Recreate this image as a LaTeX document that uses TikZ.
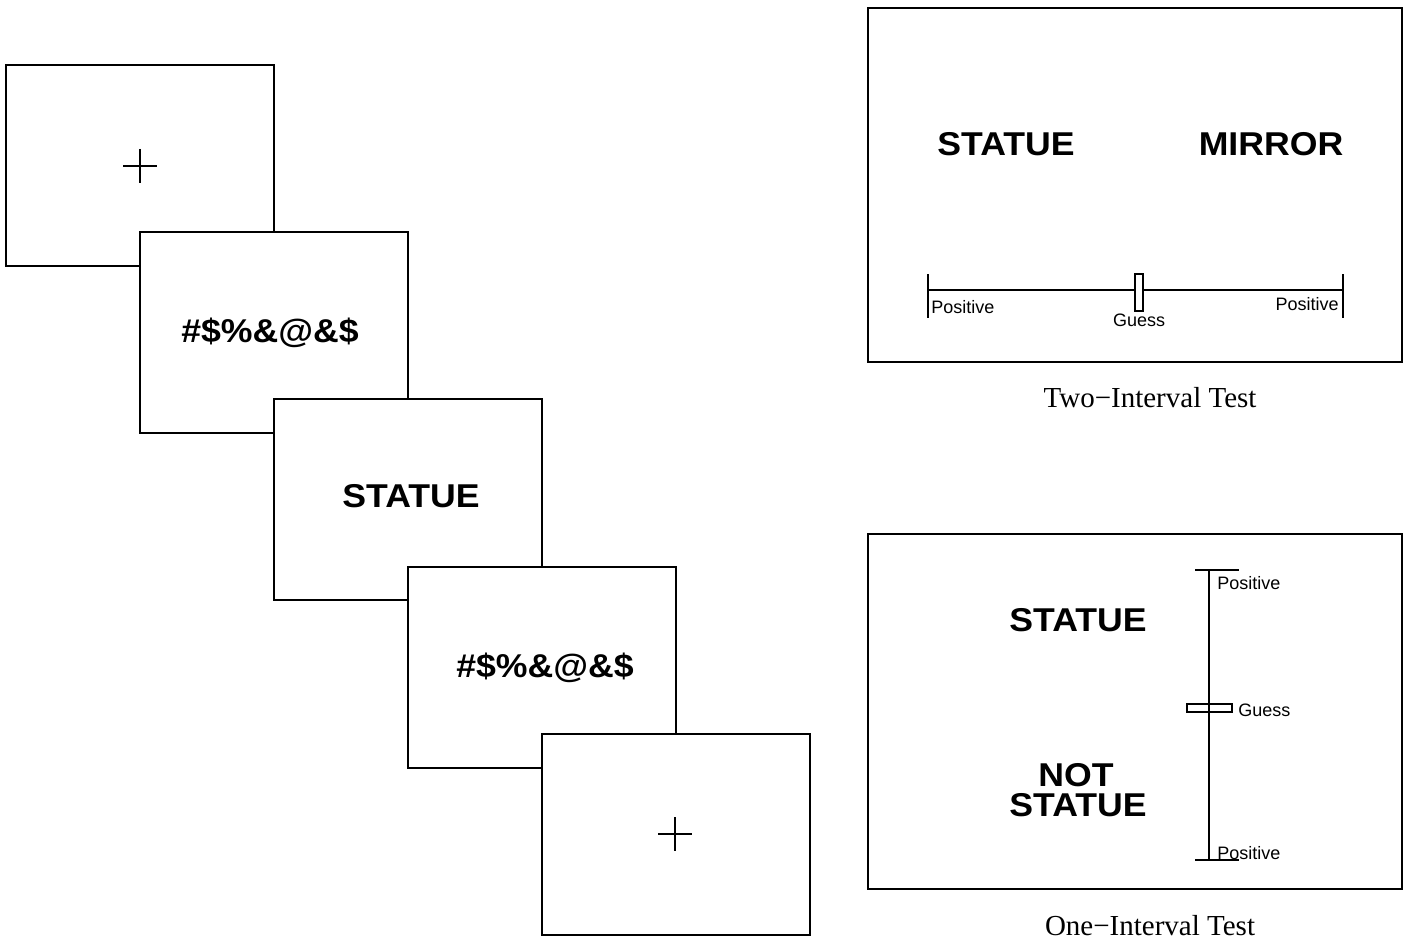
\documentclass[tikz,border=0pt]{standalone}
\usepackage{fontspec}
\setmainfont{Liberation Serif}
\setsansfont{Liberation Sans}
\begin{document}
\begin{tikzpicture}[x=0.5pt,y=-0.5pt,
  screen/.style={draw=black,fill=white,line width=0.65pt},
  thin/.style={draw=black,line width=0.65pt},
  big/.style={font=\sffamily\bfseries\fontsize{16.5}{15}\selectfont,inner sep=0pt,anchor=base,xscale=1.08},
  small/.style={font=\sffamily\fontsize{9}{10}\selectfont,inner sep=0pt,anchor=base},
  caption/.style={font=\rmfamily\fontsize{14.5}{16}\selectfont,inner sep=0pt,anchor=base}]
\useasboundingbox (0,0) rectangle (1412,941);
% stacked screens
\foreach \i/\x/\y in {1/6/65,2/140/232,3/274/399,4/408/567,5/542/734}{
  \draw[screen] (\x,\y) rectangle ++(268,201);
}
% fixation crosses
\coordinate (c1) at (140,166);
\coordinate (c5) at (675,834);
\draw[thin] (c1) ++(-17,0) -- ++(34,0) (c1) ++(0,-17) -- ++(0,34);
\draw[thin] (c5) ++(-17,0) -- ++(34,0) (c5) ++(0,-17) -- ++(0,34);
\node[big] (m1) at (270,342) {\#\$\%\&@\&\$};
\node[big] (w1) at (411,507) {STATUE};
\node[big] (m2) at (545,677) {\#\$\%\&@\&\$};
% two-interval
\draw[screen] (868,8) rectangle (1402,362);
\node[big] (s2) at (1006,156) {STATUE};
\node[big] (mr) at (1271,156) {MIRROR};
\coordinate (hl) at (928,290);
\coordinate (hr) at (1343,290);
\draw[thin] (hl) -- (hr);
\draw[thin] (928,274) -- (928,318);
\draw[thin] (1343,274) -- (1343,318);
\draw[thin,fill=white] (1135,274) rectangle (1143,311);
\node[small,anchor=base west] (p1) at (931,313) {Positive};
\node[small,anchor=base east] (p2) at (1339,310) {Positive};
\node[small] (g1) at (1139,326) {Guess};
\node[caption] (t2) at (1150,407) {Two−Interval Test};
% one-interval
\draw[screen] (868,534) rectangle (1402,889);
\node[big] (s3) at (1078,631) {STATUE};
\node[big] (n3) at (1076,786) {NOT};
\node[big] (s4) at (1078,816) {STATUE};
\coordinate (vt) at (1209,570);
\coordinate (vb) at (1209,860);
\draw[thin] (vt) -- (vb);
\draw[thin] (1195,570) -- (1239,570);
\draw[thin] (1195,860) -- (1239,860);
\draw[thin,fill=white] (1187,704) rectangle (1232,712);
\draw[thin] (1209,704) -- (1209,712);
\node[small,anchor=base west] (p3) at (1217,589) {Positive};
\node[small,anchor=base west] (g2) at (1238,716) {Guess};
\node[small,anchor=base west] (p4) at (1217,859) {Positive};
\node[caption] (t1) at (1150,935) {One−Interval Test};
\end{tikzpicture}
\end{document}
